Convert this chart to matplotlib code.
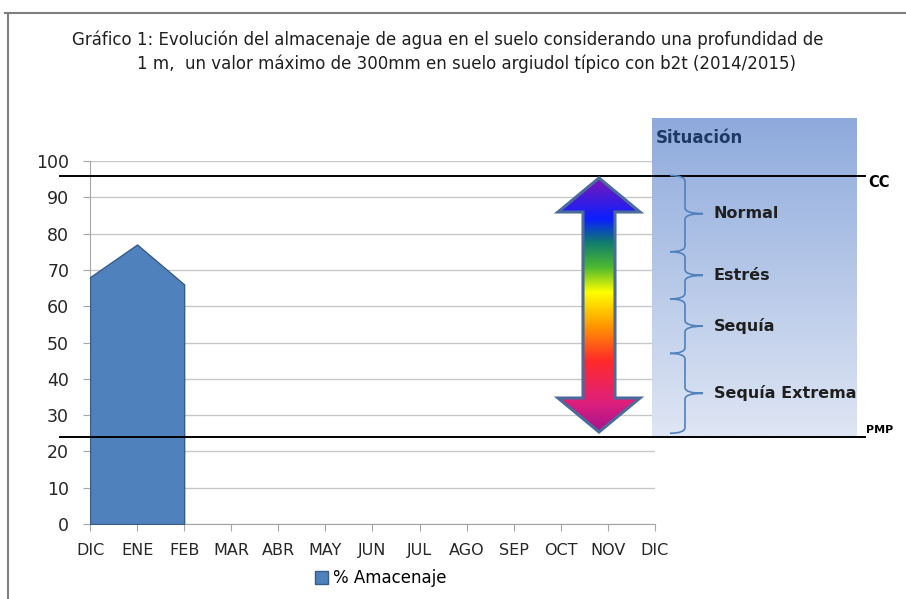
import numpy as np
import matplotlib.pyplot as plt
from matplotlib.path import Path
from matplotlib.patches import Patch, PathPatch, Polygon
from matplotlib.colors import LinearSegmentedColormap

plt.rcParams['font.family'] = ['Liberation Sans Narrow', 'DejaVu Sans']

# datos
meses = ['DIC', 'ENE', 'FEB', 'MAR', 'ABR', 'MAY', 'JUN', 'JUL', 'AGO', 'SEP', 'OCT', 'NOV', 'DIC']
almacenaje = [68, 77, 66]          # % almacenaje DIC, ENE, FEB
cc = 96                            # capacidad de campo
pmp = 24                           # punto de marchitez permanente
situaciones = ['Normal', 'Estrés', 'Sequía', 'Sequía Extrema']
limites = [96, 75, 62, 47, 25]     # cortes de las llaves

fig = plt.figure(figsize=(9.06, 5.99), dpi=100)
W, H = 906, 599
x0, x1 = 90, 655
y0, y1 = 524, 161
ax = fig.add_axes([x0 / W, 1 - y0 / H, (x1 - x0) / W, (y0 - y1) / H])
ax.set_xlim(0, 12)
ax.set_ylim(0, 100)
pxx = 12 / (x1 - x0)
pxy = 100 / (y0 - y1)

def dx(p):
    return (p - x0) * pxx

def dy(p):
    return (y0 - p) * pxy

# marco de la figura
fig.add_artist(plt.Line2D([5 / W, 1], [1 - 13 / H] * 2, color='#7f7f7f', lw=1.5))
fig.add_artist(plt.Line2D([8 / W] * 2, [0, 1 - 13 / H], color='#7f7f7f', lw=1.5))

# grilla
ax.set_yticks(range(0, 101, 10))
ax.set_xticks(range(13))
ax.set_xticklabels(meses)
ax.grid(axis='y', color='#c8c8c8', lw=1)
ax.set_axisbelow(True)
for s in ['top', 'right']:
    ax.spines[s].set_visible(False)
ax.spines['left'].set_color('#a6a6a6')
ax.spines['bottom'].set_color('#a6a6a6')
ax.tick_params(axis='both', colors='#a6a6a6', labelcolor='#262626', length=5)
ax.tick_params(axis='y', labelsize=12.5, pad=10)
ax.tick_params(axis='x', labelsize=11.5, pad=9)

# area
meses_idx = np.arange(len(almacenaje))
ax.fill_between(meses_idx, almacenaje, 0, color='#4f81bd', edgecolor='#385d8a', lw=1, zorder=3)

# caja situacion con degradado
bx0, bx1 = dx(652), dx(857)
by0, by1 = dy(436), dy(118)
grad = np.linspace(0, 1, 256).reshape(-1, 1)
cmap_box = LinearSegmentedColormap.from_list('box', ['#dfe6f4', '#8eaadc'])
ax.imshow(grad, cmap=cmap_box, extent=[bx0, bx1, by0, by1], origin='lower',
          aspect='auto', clip_on=False, zorder=1)
ax.text(dx(656), dy(138), 'Situación', fontsize=12, fontweight='bold', color='#1f3864',
        va='center', ha='left', clip_on=False, zorder=5)

# lineas CC y PMP
xe = dx(865)
ax.plot([dx(60), xe], [cc, cc], color='black', lw=1.4, clip_on=False, zorder=4)
ax.plot([dx(60), xe], [pmp, pmp], color='black', lw=1.4, clip_on=False, zorder=4)
ax.text(dx(868), cc - 1.8, 'CC', fontsize=10.5, fontweight='bold', va='center', ha='left', clip_on=False)
ax.text(dx(866), pmp + 0.6, 'PMP', fontsize=8, fontweight='bold', va='bottom', ha='left', clip_on=False)

# flecha doble con arcoiris
cx = dx(599)
hw = 41 * pxx
sw = 16 * pxx
top, bot = dy(178), dy(432)
hl = 34 * pxy
pts = [(cx, top), (cx + hw, top - hl), (cx + sw, top - hl), (cx + sw, bot + hl),
       (cx + hw, bot + hl), (cx, bot), (cx - hw, bot + hl), (cx - sw, bot + hl),
       (cx - sw, top - hl), (cx - hw, top - hl)]
flecha = Polygon(pts, closed=True, fc='none', ec='#4a6b9c', lw=2.2, zorder=7)
ax.add_patch(flecha)
cmap_arc = LinearSegmentedColormap.from_list('arc', [
    (0.0, '#a8128f'), (0.12, '#e0207a'), (0.28, '#ff2a2a'), (0.42, '#ff9900'),
    (0.55, '#ffff00'), (0.65, '#4cb830'), (0.75, '#0f7a70'), (0.84, '#0a1fff'),
    (1.0, '#7a18b8')])
im = ax.imshow(grad, cmap=cmap_arc, extent=[cx - hw, cx + hw, bot, top], origin='lower',
               aspect='auto', zorder=6)
im.set_clip_path(flecha)

# llaves
bxv = dx(685)
bl = dx(670)
bt = dx(703)
r = 1.6
for i, nombre in enumerate(situaciones):
    ya, yb = limites[i], limites[i + 1]
    ym = (ya + yb) / 2
    verts = [(bl, ya), (bxv, ya), (bxv, ya - r),
             (bxv, ym + r), (bxv, ym), (bt, ym),
             (bt, ym), (bxv, ym), (bxv, ym - r),
             (bxv, yb + r), (bxv, yb), (bl, yb)]
    codes = [Path.MOVETO, Path.CURVE3, Path.CURVE3,
             Path.LINETO, Path.CURVE3, Path.CURVE3,
             Path.MOVETO, Path.CURVE3, Path.CURVE3,
             Path.LINETO, Path.CURVE3, Path.CURVE3]
    ax.add_patch(PathPatch(Path(verts, codes), fc='none', ec='#4f81bd', lw=1.2,
                           clip_on=False, zorder=5))
    ax.text(dx(714), ym, nombre, fontsize=11.5, fontweight='bold', color='#1f1f1f',
            va='center', ha='left', clip_on=False, zorder=5)

# titulo
fig.text(72 / W, 1 - 40 / H, 'Gráfico 1: Evolución del almacenaje de agua en el suelo considerando una profundidad de',
         fontsize=12, va='center', ha='left', color='#1f1f1f')
fig.text(137 / W, 1 - 64 / H, '1 m,  un valor máximo de 300mm en suelo argiudol típico con b2t (2014/2015)',
         fontsize=12, va='center', ha='left', color='#1f1f1f')

# leyenda
fig.legend(handles=[Patch(fc='#4f81bd', ec='#385d8a', label='% Amacenaje')],
           loc='center', bbox_to_anchor=(381 / W, 1 - 578 / H), frameon=False,
           fontsize=12, handlelength=0.8, handleheight=0.8, handletextpad=0.3)

fig.savefig('out.png', dpi=100)
